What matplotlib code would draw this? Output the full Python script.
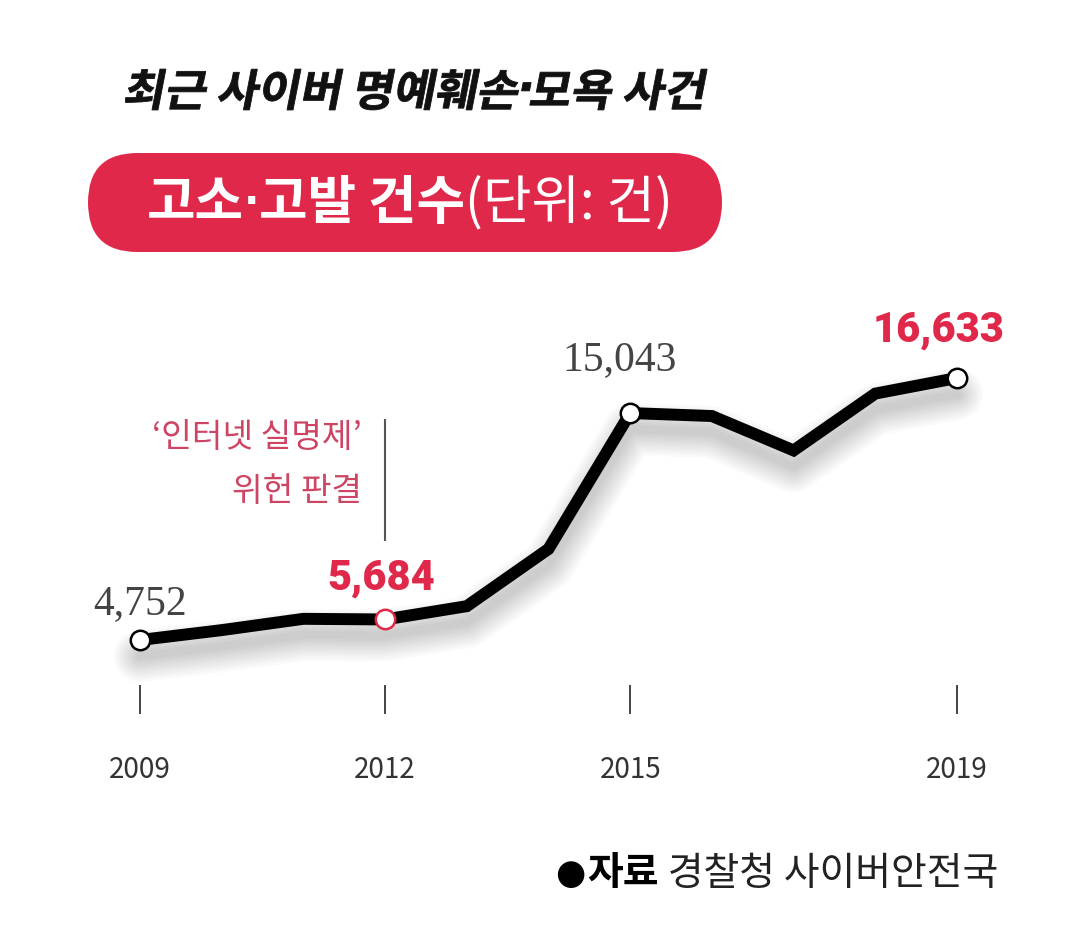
import matplotlib
matplotlib.use("Agg")
import matplotlib.pyplot as plt
from matplotlib.textpath import TextPath
from matplotlib.patches import PathPatch, FancyBboxPatch
from matplotlib.path import Path
from matplotlib.font_manager import FontProperties
from matplotlib.transforms import Affine2D, IdentityTransform, offset_copy
import numpy as np

# data
years = [2009, 2010, 2011, 2012, 2013, 2014, 2015, 2016, 2017, 2018, 2019]
cases = [4752, 5200, 5712, 5684, 6286, 8880, 15043, 14908, 13348, 15926, 16633]
tick_years = [2009, 2012, 2015, 2019]
marked = [2009, 2015, 2019]
highlight = 2012

title_parts = ["최근 사이버 명예훼손", "·", "모욕 사건"]
pill_parts = ["고소", "·", "고발 건수", "(단위: 건)"]
note = ["\u2018인터넷 실명제\u2019", "위헌 판결"]
source_bold = "자료"
source_reg = " 경찰청 사이버안전국"

W, H = 1079, 933
RED = "#e0284a"
PINK = "#cc4563"
KR = ["Noto Sans CJK KR", "DejaVu Sans"]

fig = plt.figure(figsize=(W / 100, H / 100), dpi=100)
fig.patch.set_facecolor("white")
r = fig.canvas.get_renderer()

def fx(px):
    return px / W

def fy(py):
    return 1 - py / H

# axes over the whole figure, limits chosen so data lands where the reference has it
ax = fig.add_axes([0, 0, 1, 1])
ax.set_axis_off()
xs = (957 - 140) / (2019 - 2009)
x0 = 2009 - 140 / xs
ax.set_xlim(x0, x0 + W / xs)
ys = (640 - 378) / (16633 - 4752)
y0 = 4752 - (H - 640) / ys
ax.set_ylim(y0, y0 + H / ys)
xtr = ax.get_xaxis_transform()

# soft shadow below line
for i in range(10):
    tr = offset_copy(ax.transData, fig=fig, x=0, y=-16, units="dots")
    ax.plot(years, cases, color="k", lw=6 + i * 3.5, alpha=0.018,
            solid_joinstyle="round", solid_capstyle="round", transform=tr, zorder=1)

ax.plot(years, cases, color="black", lw=8.6, solid_joinstyle="miter",
        solid_capstyle="butt", zorder=3)

my = [cases[years.index(y)] for y in marked]
ax.plot(marked, my, "o", ms=14, mfc="white", mec="black", mew=1.8, zorder=4)
ax.plot([highlight], [cases[years.index(highlight)]], "o", ms=14,
        mfc="white", mec=RED, mew=1.8, zorder=4)

# x ticks and labels
for t in tick_years:
    ax.plot([t, t], [fy(713), fy(686)], color="#444444", lw=1.4, transform=xtr)
    ax.text(t, fy(770), str(t), transform=xtr, ha="center", va="center",
            fontsize=20, color="#333333", family=KR)

# value labels
light = dict(family=["Liberation Serif", "DejaVu Serif"], color="#444444", fontsize=30)
heavy = dict(family=["Roboto", "DejaVu Sans"], weight="black", color=RED, fontsize=30)
ax.text(2009, fy(604), "{:,}".format(cases[0]), transform=xtr,
        ha="center", va="center", **light)
ax.text(2015 - 0.13, fy(360), "{:,}".format(cases[6]), transform=xtr,
        ha="center", va="center", **light)
ax.text(2012 - 0.05, fy(578), "{:,}".format(cases[3]), transform=xtr,
        ha="center", va="center", **heavy)
ax.text(2019 - 0.23, fy(330), "{:,}".format(cases[10]), transform=xtr,
        ha="center", va="center", **heavy)

# note for 2012
ax.plot([2012, 2012], [fy(540), fy(420)], color="#555555", lw=1.5, transform=xtr)
fig.text(fx(362), fy(438), note[0], ha="right", va="center", fontsize=24,
         color=PINK, family=KR)
fig.text(fx(362), fy(491), note[1], ha="right", va="center", fontsize=24,
         color=PINK, family=KR)

# title, slanted bold text built from paths
bold_kr = FontProperties(family="Noto Sans CJK KR", weight="bold")
bold_dot = FontProperties(family="DejaVu Sans", weight="bold")
verts, codes = [], []
cx = 0
for part in title_parts:
    is_dot = part == "·"
    tp = TextPath((0, 0), part, size=44, prop=bold_dot if is_dot else bold_kr)
    ext = tp.get_extents()
    cx += 3 if is_dot else 0
    v = tp.vertices.copy()
    v[:, 0] += cx - ext.x0
    if is_dot:
        v[:, 1] += 4
    verts.append(v)
    codes.append(tp.codes)
    cx += ext.width + (3 if is_dot else 0)
tpath = Path(np.vstack(verts), np.concatenate(codes))
ext = tpath.get_extents()
sx = (585 - 8) / ext.width
tt = Affine2D().translate(-ext.x0, 0).scale(sx, 1).skew_deg(11, 0).translate(124, H - 106)
fig.add_artist(PathPatch(tpath, transform=tt, facecolor="#111111",
                         edgecolor="#111111", lw=0.6))

# red pill
fig.add_artist(FancyBboxPatch((88, H - 252), 722 - 88, 99,
                              boxstyle="round,pad=0,rounding_size=49.5",
                              transform=IdentityTransform(),
                              facecolor=RED, edgecolor="none"))

cx = 147
for k, part in enumerate(pill_parts):
    if part == "·":
        t = fig.text(fx(cx), fy(203), part, ha="left", va="center", fontsize=29,
                     weight="bold", color="white", family=["DejaVu Sans"])
    else:
        t = fig.text(fx(cx), fy(203), part, ha="left", va="center", fontsize=38,
                     weight="bold" if k < 3 else "normal", color="white", family=KR)
    cx = t.get_window_extent(renderer=r).x1

# source line
s0 = fig.text(fx(555), fy(874), "●", ha="left", va="center", fontsize=25,
              color="black", family=["DejaVu Sans"])
bb = s0.get_window_extent(renderer=r)
s1 = fig.text(bb.x1 / W + 0.002, fy(874), source_bold, ha="left", va="center",
              fontsize=28, weight="bold", color="black", family=KR)
bb = s1.get_window_extent(renderer=r)
fig.text(bb.x1 / W, fy(874), source_reg, ha="left", va="center", fontsize=28,
         color="#222222", family=KR)

fig.savefig("out.png", dpi=100)
